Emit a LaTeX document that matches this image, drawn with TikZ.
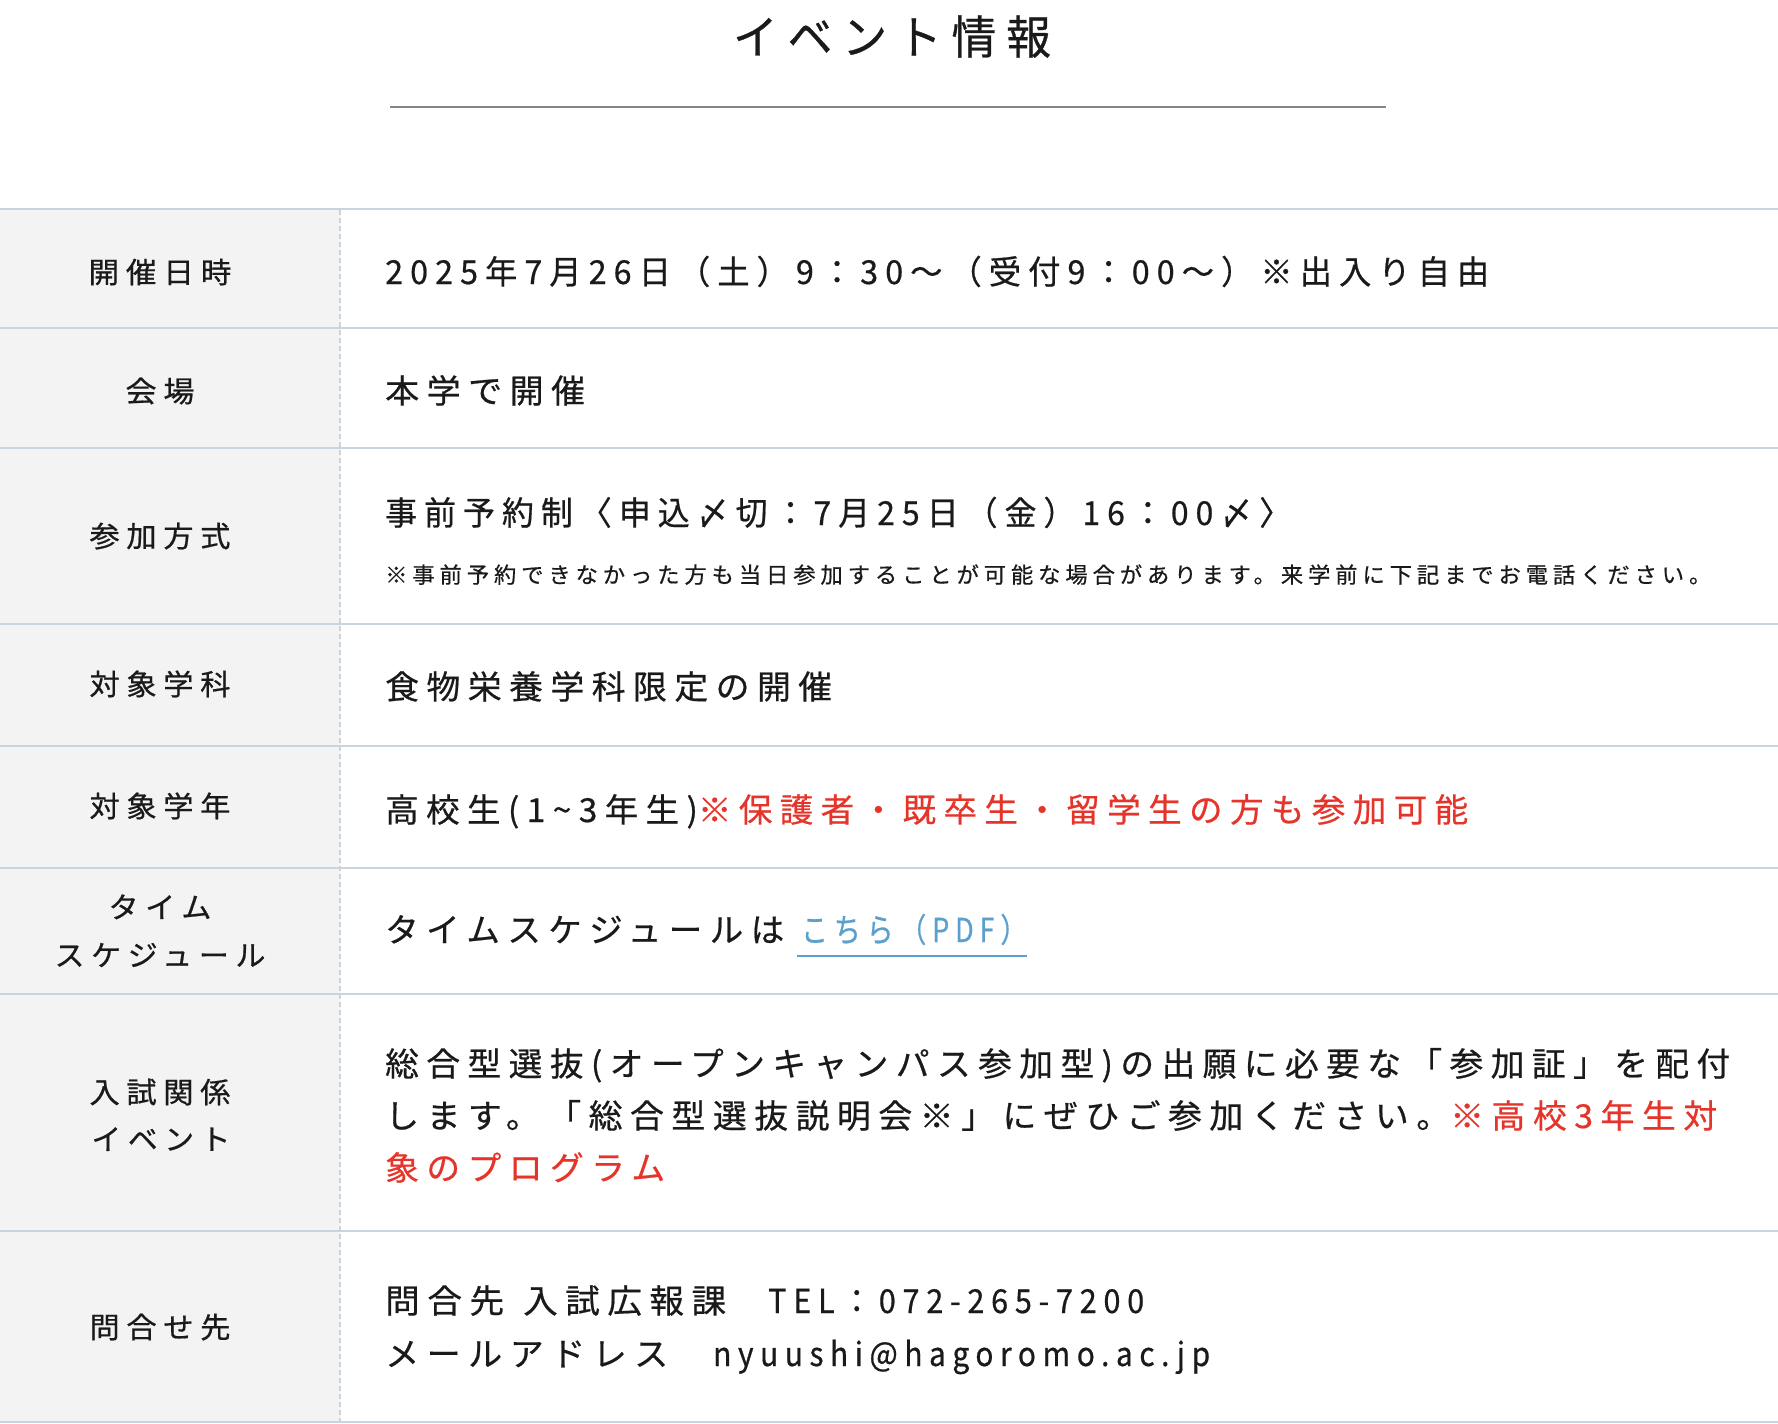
\documentclass[tikz,border=0pt]{standalone}
\usepackage{fontspec}
\usepackage{graphicx}
\newfontfamily\jpf[LetterSpace=22,FakeBold=0.6]{Noto Sans CJK JP}
\definecolor{ink}{HTML}{1A1A1A}
\definecolor{accent}{HTML}{E5352B}
\definecolor{linkblue}{HTML}{5B9FCC}
\definecolor{rowline}{HTML}{C8D5DE}
\definecolor{labelbg}{HTML}{F3F3F3}
\definecolor{ruleg}{HTML}{858585}
\newcommand\fitw[2]{\resizebox{#1pt}{\height}{#2}}
\tikzset{
  titlet/.style={anchor=base, inner sep=0pt, text=ink, font=\jpf\fontsize{46}{46}\selectfont},
  lbl/.style={anchor=base, inner sep=0pt, text=ink, font=\jpf\fontsize{29}{29}\selectfont},
  txt/.style={anchor=base west, inner sep=0pt, text=ink, font=\jpf\fontsize{33}{33}\selectfont},
  note/.style={anchor=base west, inner sep=0pt, text=ink, font=\jpf\fontsize{22}{22}\selectfont},
  rowrule/.style={draw=rowline, line width=2.5pt},
  colrule/.style={draw=rowline, line width=1.5pt, dash pattern=on 5pt off 3pt},
  linkline/.style={draw=linkblue, line width=2pt}
}
\begin{document}
\begin{tikzpicture}[x=1pt,y=-1pt]
\useasboundingbox (0,0) rectangle (1778,1424);
% title
\node[titlet] (title) at (892,54) {\fitw{318}{イベント情報}};
\draw[ruleg, line width=2.2pt] (390,107) -- (1386,107);
% table background and rules
\fill[labelbg] (0,209) rectangle (340,1422);
\foreach \yy in {209,328,448,624,746,868,994,1231,1422}
  \draw[rowrule] (0,\yy) -- (1778,\yy);
\draw[colrule] (340,210) -- (340,1421);
% labels
\node[lbl] (l1) at (160,283) {\fitw{143}{開催日時}};
\node[lbl] (l2) at (160,402) {\fitw{69}{会場}};
\node[lbl] (l3) at (160,547) {\fitw{141}{参加方式}};
\node[lbl] (l4) at (160,695) {\fitw{141}{対象学科}};
\node[lbl] (l5) at (160,817) {\fitw{141}{対象学年}};
\node[lbl] (l6a) at (160,918) {\fitw{103}{タイム}};
\node[lbl] (l6b) at (160,966) {\fitw{211}{スケジュール}};
\node[lbl] (l7a) at (160,1103) {\fitw{141}{入試関係}};
\node[lbl] (l7b) at (161,1150) {\fitw{139}{イベント}};
\node[lbl] (l8) at (160,1338) {\fitw{141}{問合せ先}};
% contents
\node[txt] (c1) at (385,284) {\fitw{1104}{2025年7月26日（土）9：30〜（受付9：00〜）※出入り自由}};
\node[txt] (c2) at (385,403) {\fitw{200}{本学で開催}};
\node[txt] (c3) at (385,525) {\fitw{906}{事前予約制〈申込〆切：7月25日（金）16：00〆〉}};
\node[note] (c3n) at (385,583) {\fitw{1326}{※事前予約できなかった方も当日参加することが可能な場合があります。来学前に下記までお電話ください。}};
\node[txt] (c4) at (385,699) {\fitw{447}{食物栄養学科限定の開催}};
\node[txt] (c5) at (385,822) {\fitw{1083}{高校生(1\textasciitilde3年生)\textcolor{accent}{※保護者・既卒生・留学生の方も参加可能}}};
\node[txt] (c6a) at (385,942) {\fitw{399}{タイムスケジュールは}};
\node[txt, text=linkblue] (c6b) at (801,942) {\fitw{226}{こちら（PDF）}};
\draw[linkline] (c6b.base west) ++(-4,14) coordinate (u1) -- (c6b.base east |- u1);
\node[txt] (c7a) at (385,1076) {\fitw{1345}{総合型選抜(オープンキャンパス参加型)の出願に必要な「参加証」を配付}};
\node[txt] (c7b) at (385,1128) {\fitw{1332}{します。「総合型選抜説明会※」にぜひご参加ください。\textcolor{accent}{※高校3年生対}}};
\node[txt, text=accent] (c7c) at (385,1180) {\fitw{280}{象のプログラム}};
\node[txt] (c8a) at (385,1313) {\fitw{119}{問合先}};
\node[txt] (c8b) at (523,1313) {\fitw{203}{入試広報課}};
\node[txt] (c8c) at (768,1313) {\fitw{376}{TEL：072-265-7200}};
\node[txt] (c8d) at (385,1366) {\fitw{283}{メールアドレス}};
\node[txt] (c8e) at (713,1366) {\fitw{497}{nyuushi@hagoromo.ac.jp}};
\end{tikzpicture}
\end{document}
